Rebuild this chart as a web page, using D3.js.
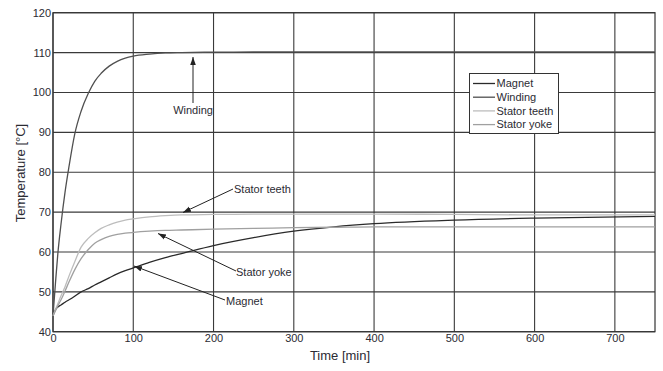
<!DOCTYPE html>
<html><head><meta charset="utf-8">
<script src="https://cdn.jsdelivr.net/npm/d3@7"></script>
<style>body{margin:0;background:#fff}svg{display:block}text{font-family:"Liberation Sans",Arial,sans-serif;fill:#2b2b33}</style>
</head><body><svg id="c" width="663" height="371"></svg>
<script>
const time = [0,3,6,10,15,20,27,35,44,52,60,70,80,90,100,120,140,160,200,250,300,350,400,500,600,750];
const winding = [44,52,59.5,67,75,81.5,89.5,95.3,99.8,102.8,104.8,106.6,107.8,108.6,109.1,109.6,109.9,110,110.1,110.2,110.2,110.2,110.2,110.2,110.2,110.2];
const statorTeeth = [44,45.5,47,49,51.3,54,57.5,61.2,63.4,64.8,65.9,66.8,67.5,68,68.3,68.8,69.1,69.3,69.4,69.5,69.5,69.5,69.5,69.4,69.3,69.3];
const statorYoke = [44,45.2,46.5,48,50.2,52.5,55.5,58.3,60.6,62.2,63.1,63.9,64.4,64.7,64.9,65.2,65.4,65.5,65.7,65.9,66.1,66.2,66.3,66.3,66.3,66.3];
const magnet = [44,45.5,46.2,46.7,47.4,48,48.9,50,50.8,51.7,52.5,53.5,54.5,55.3,56,57.4,58.6,59.6,61.6,63.6,65.2,66.3,67.1,68,68.5,68.9];
const seriesNames = ["Magnet","Winding","Stator teeth","Stator yoke"];
const xTicks = [0,100,200,300,400,500,600,700];
const yTicks = [40,50,60,70,80,90,100,110,120];
const annotations = [
  {label:"Winding", tx:193, ty:110, from:[193,103], to:[193,57], anchor:"middle"},
  {label:"Stator teeth", tx:234, ty:189, from:[233,189], to:[183,212.5], anchor:"start"},
  {label:"Stator yoke", tx:236, ty:272, from:[236,271], to:[158,233.5], anchor:"start"},
  {label:"Magnet", tx:226, ty:301, from:[225,300], to:[134,266], anchor:"start"}
];

const svg = d3.select("#c");
const x = d3.scaleLinear().domain([0,750]).range([53,655]);
const y = d3.scaleLinear().domain([40,120]).range([331.7,12.7]);
const defs = svg.append("defs");
defs.append("marker").attr("id","ah").attr("viewBox","0 0 10 10").attr("refX",10).attr("refY",5)
  .attr("markerWidth",8).attr("markerHeight",8).attr("orient","auto-start-reverse").attr("markerUnits","userSpaceOnUse")
  .append("path").attr("d","M0,1.5 L10,5 L0,8.5 Z").attr("fill","#222");

// grid
const g = svg.append("g");
g.selectAll(".hg").data(yTicks).join("line").attr("x1",x(0)).attr("x2",x(750))
  .attr("y1",d=>y(d)).attr("y2",d=>y(d)).attr("stroke","#3a3a3a").attr("stroke-width",1.1);
g.selectAll(".vg").data(xTicks).join("line").attr("y1",y(40)).attr("y2",y(120))
  .attr("x1",d=>x(d)).attr("x2",d=>x(d)).attr("stroke","#3a3a3a").attr("stroke-width",1.1);
g.append("rect").attr("x",x(0)).attr("y",y(120)).attr("width",x(750)-x(0)).attr("height",y(40)-y(120))
  .attr("fill","none").attr("stroke","#333").attr("stroke-width",1.2);

// axes labels
const xa = svg.append("g").attr("transform",`translate(0,${y(40)})`)
  .call(d3.axisBottom(x).tickValues(xTicks).tickSize(0).tickPadding(3).tickFormat(d3.format("d")));
xa.select(".domain").remove();
xa.selectAll("text").attr("font-size",11).style("font-family","Liberation Sans").attr("fill","#2b2b33");
const ya = svg.append("g").attr("transform",`translate(${x(0)},0)`)
  .call(d3.axisLeft(y).tickValues(yTicks).tickSize(0).tickPadding(2).tickFormat(d3.format("d")));
ya.select(".domain").remove();
ya.selectAll("text").attr("font-size",11).style("font-family","Liberation Sans").attr("fill","#2b2b33");

svg.append("text").attr("x",340).attr("y",360).attr("text-anchor","middle").attr("font-size",13).text("Time [min]");
svg.append("text").attr("transform","translate(25,173) rotate(-90)").attr("text-anchor","middle").attr("font-size",13).text("Temperature [\u00B0C]");

// lines
const colors = ["#2a2a2a","#505050","#bdbdbd","#a0a0a0"];
const data = [magnet, winding, statorTeeth, statorYoke];
const line = d3.line().x((d,i)=>x(time[i])).y(d=>y(d)).curve(d3.curveMonotoneX);
svg.append("g").selectAll("path").data(data).join("path").attr("d",line)
  .attr("fill","none").attr("stroke",(d,i)=>colors[i]).attr("stroke-width",1.3);

// annotations
const an = svg.append("g");
an.selectAll("line").data(annotations).join("line")
  .attr("x1",d=>d.from[0]).attr("y1",d=>d.from[1]).attr("x2",d=>d.to[0]).attr("y2",d=>d.to[1])
  .attr("stroke","#222").attr("stroke-width",1).attr("marker-end","url(#ah)");
an.selectAll("text").data(annotations).join("text")
  .attr("x",d=>d.tx).attr("y",d=>d.ty).attr("dy","0.35em").attr("text-anchor",d=>d.anchor)
  .attr("font-size",11).text(d=>d.label);

// legend
const lg = svg.append("g");
lg.append("rect").attr("x",469.5).attr("y",73.5).attr("width",89).attr("height",60)
  .attr("fill","#fff").attr("stroke","#333").attr("stroke-width",1);
const rows = lg.selectAll("g").data(seriesNames).join("g").attr("transform",(d,i)=>`translate(0,${83.5+i*13.7})`);
rows.append("line").attr("x1",473).attr("x2",495).attr("stroke",(d,i)=>colors[i]).attr("stroke-width",1.3);
rows.append("text").attr("x",496.5).attr("dy","0.35em").attr("font-size",11).text(d=>d);
</script></body></html>
